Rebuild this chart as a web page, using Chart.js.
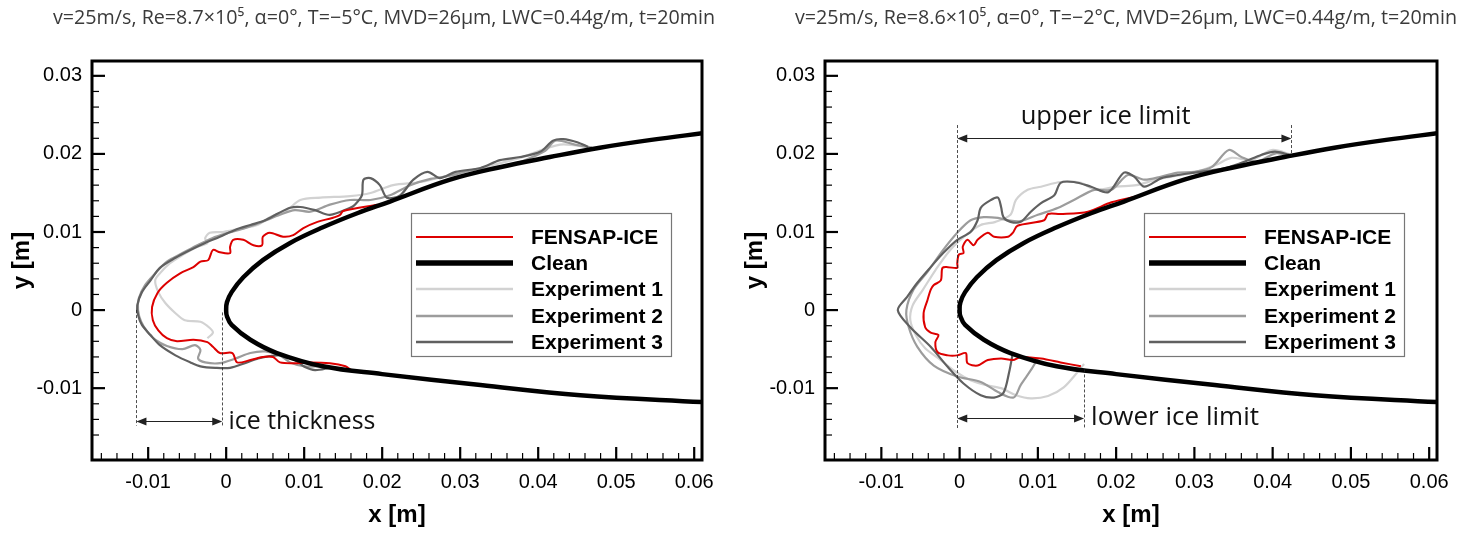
<!DOCTYPE html>
<html>
<head>
<meta charset="utf-8">
<script src="https://cdn.jsdelivr.net/npm/chart.js@4"></script>
<style>
  body { margin: 0; background: #fff; }
  #wrap { position: relative; width: 1466px; height: 533px; }
  canvas { position: absolute; top: 0; }
</style>
</head>
<body>
<div id="wrap">
  <canvas id="chartA" width="733" height="533" style="left:0"></canvas>
  <canvas id="chartB" width="733" height="533" style="left:733px"></canvas>
</div>
<script>
// ---- datos (x, y en metros) ----
const xTicks = [-0.01, 0, 0.01, 0.02, 0.03, 0.04, 0.05, 0.06];
const yTicks = [-0.01, 0, 0.01, 0.02, 0.03];

const titleA = 'v=25m/s, Re=8.7×10⁵, α=0°, T=−5°C, MVD=26μm, LWC=0.44g/m, t=20min';
const titleB = 'v=25m/s, Re=8.6×10⁵, α=0°, T=−2°C, MVD=26μm, LWC=0.44g/m, t=20min';

const legendNames = ['FENSAP-ICE', 'Clean', 'Experiment 1', 'Experiment 2', 'Experiment 3'];

// perfil limpio: extradós desde el borde de fuga hacia el borde de ataque, luego intradós
const cleanUpper = [[0.0615,0.0227],[0.0545,0.0218],[0.0479,0.0208],[0.0415,0.0196],[0.0351,0.0183],
  [0.0287,0.0167],[0.0210,0.0139],[0.0168,0.0124],[0.0124,0.0106],[0.0082,0.0086],[0.0047,0.0064],
  [0.0022,0.0042],[0.0007,0.0023],[0.0001,0.0010],[0,0]];
const cleanLower = [[0.0001,-0.0008],[0.0007,-0.0019],[0.0031,-0.0038],[0.0065,-0.0055],[0.0124,-0.0072],
  [0.0200,-0.0082],[0.0326,-0.0096],[0.0454,-0.0109],[0.0615,-0.0118]];

// panel izquierdo, T=-5°C
const fensapA = [[0.0194,0.0135],[0.0150,0.0127],[0.0146,0.0122],[0.0136,0.0118],[0.0117,0.0113],[0.0099,0.0105],
  [0.0086,0.0096],[0.0073,0.0094],[0.0056,0.0099],[0.0047,0.0094],[0.0046,0.0083],[0.0035,0.0083],[0.0022,0.0090],
  [0.0009,0.0090],[0.0005,0.0081],[0.0005,0.0073],[-0.0008,0.0074],[-0.0017,0.0077],[-0.0023,0.0064],[-0.0033,0.0062],
  [-0.0042,0.0055],[-0.0059,0.0047],[-0.0076,0.0035],[-0.0088,0.0022],[-0.0095,0.0004],[-0.0094,-0.0013],
  [-0.0087,-0.0026],[-0.0076,-0.0036],[-0.0063,-0.0040],[-0.0042,-0.0038],[-0.0024,-0.0041],[-0.0017,-0.0047],
  [-0.0008,-0.0055],[0.0008,-0.0055],[0.0014,-0.0067],[0.0031,-0.0064],[0.0047,-0.0060],[0.0060,-0.0060],
  [0.0069,-0.0067],[0.0091,-0.0068],[0.0108,-0.0067],[0.0133,-0.0068],[0.0153,-0.0072],[0.0160,-0.0077]];
const exp1A = [[0.0467,0.0208],[0.0428,0.0212],[0.0377,0.0195],[0.0326,0.0182],[0.0287,0.0173],[0.0249,0.0164],
  [0.0214,0.0160],[0.0185,0.0150],[0.0159,0.0146],[0.0121,0.0144],[0.0095,0.0141],[0.0078,0.0128],[0.0056,0.0119],
  [0.0040,0.0109],[0.0022,0.0105],[-0.0004,0.0100],[-0.0021,0.0099],[-0.0027,0.0092],[-0.0024,0.0086],
  [-0.0037,0.0081],[-0.0055,0.0071],[-0.0072,0.0060],[-0.0085,0.0047],[-0.0091,0.0038],[-0.0087,0.0023],
  [-0.0078,0.0009],[-0.0065,-0.0004],[-0.0053,-0.0013],[-0.0033,-0.0015],[-0.0021,-0.0023],[-0.0017,-0.0029],
  [-0.0024,-0.0036]];
const exp2A = [[0.0469,0.0208],[0.0447,0.0212],[0.0422,0.0217],[0.0409,0.0204],[0.0383,0.0192],[0.0364,0.0186],
  [0.0338,0.0182],[0.0313,0.0179],[0.0287,0.0172],[0.0262,0.0168],[0.0236,0.0160],[0.0210,0.0147],[0.0185,0.0141],
  [0.0159,0.0141],[0.0133,0.0135],[0.0108,0.0126],[0.0088,0.0128],[0.0069,0.0122],[0.0046,0.0113],[0.0024,0.0105],
  [0.0003,0.0099],[-0.0018,0.0092],[-0.0037,0.0083],[-0.0056,0.0073],[-0.0076,0.0062],[-0.0091,0.0047],
  [-0.0104,0.0032],[-0.0112,0.0015],[-0.0113,0.0000],[-0.0109,-0.0015],[-0.0101,-0.0028],[-0.0091,-0.0038],
  [-0.0076,-0.0046],[-0.0056,-0.0050],[-0.0040,-0.0045],[-0.0033,-0.0051],[-0.0036,-0.0062],[-0.0027,-0.0067],
  [-0.0008,-0.0068],[0.0012,-0.0062],[0.0031,-0.0055],[0.0050,-0.0053],[0.0069,-0.0058],[0.0082,-0.0067],
  [0.0101,-0.0072],[0.0121,-0.0072]];
const exp3A = [[0.0464,0.0209],[0.0450,0.0215],[0.0432,0.0219],[0.0419,0.0217],[0.0403,0.0203],[0.0377,0.0196],
  [0.0351,0.0192],[0.0326,0.0182],[0.0294,0.0177],[0.0274,0.0169],[0.0258,0.0177],[0.0240,0.0167],[0.0223,0.0147],
  [0.0206,0.0144],[0.0197,0.0160],[0.0185,0.0169],[0.0176,0.0167],[0.0174,0.0147],[0.0165,0.0135],[0.0159,0.0131],
  [0.0133,0.0122],[0.0114,0.0128],[0.0095,0.0132],[0.0082,0.0131],[0.0067,0.0124],[0.0050,0.0115],[0.0031,0.0109],
  [0.0012,0.0103],[-0.0008,0.0094],[-0.0027,0.0086],[-0.0046,0.0077],[-0.0065,0.0067],[-0.0085,0.0054],
  [-0.0097,0.0038],[-0.0108,0.0023],[-0.0114,0.0006],[-0.0113,-0.0006],[-0.0108,-0.0019],[-0.0097,-0.0032],
  [-0.0085,-0.0045],[-0.0065,-0.0058],[-0.0046,-0.0067],[-0.0033,-0.0072],[-0.0014,-0.0074],[0.0005,-0.0074],
  [0.0024,-0.0068],[0.0041,-0.0062],[0.0056,-0.0059],[0.0073,-0.0058],[0.0088,-0.0064],[0.0101,-0.0073],
  [0.0114,-0.0077],[0.0133,-0.0074]];

// panel derecho, T=-2°C
const fensapB = [[0.0232,0.0147],[0.0194,0.0138],[0.0164,0.0126],[0.0129,0.0123],[0.0113,0.0123],[0.0108,0.0115],
  [0.0074,0.0108],[0.0068,0.0099],[0.0062,0.0094],[0.0044,0.0094],[0.0036,0.0099],[0.0023,0.0090],[0.0018,0.0083],
  [0.0010,0.0090],[0.0004,0.0081],[0.0005,0.0073],[-0.0001,0.0071],[-0.0003,0.0060],[-0.0003,0.0054],
  [-0.0015,0.0055],[-0.0022,0.0054],[-0.0024,0.0038],[-0.0033,0.0032],[-0.0037,0.0026],[-0.0041,0.0013],
  [-0.0046,-0.0004],[-0.0044,-0.0022],[-0.0037,-0.0029],[-0.0027,-0.0032],[-0.0031,-0.0041],[-0.0028,-0.0054],
  [-0.0015,-0.0058],[-0.0003,-0.0058],[0.0008,-0.0055],[0.0010,-0.0068],[0.0023,-0.0071],[0.0036,-0.0064],
  [0.0053,-0.0062],[0.0068,-0.0064],[0.0078,-0.0060],[0.0104,-0.0062],[0.0129,-0.0067],[0.0155,-0.0072]];
const exp1B = [[0.0424,0.0199],[0.0399,0.0205],[0.0373,0.0192],[0.0347,0.0195],[0.0328,0.0186],[0.0303,0.0177],
  [0.0277,0.0172],[0.0251,0.0167],[0.0226,0.0160],[0.0200,0.0158],[0.0174,0.0154],[0.0155,0.0163],[0.0129,0.0164],
  [0.0104,0.0158],[0.0087,0.0154],[0.0072,0.0141],[0.0065,0.0122],[0.0046,0.0113],[0.0027,0.0109],[0.0008,0.0096],
  [-0.0012,0.0077],[-0.0031,0.0051],[-0.0047,0.0026],[-0.0060,0.0006],[-0.0063,-0.0013],[-0.0056,-0.0032],
  [-0.0044,-0.0049],[-0.0024,-0.0064],[-0.0005,-0.0079],[0.0014,-0.0090],[0.0033,-0.0096],[0.0053,-0.0100],
  [0.0072,-0.0109],[0.0091,-0.0113],[0.0113,-0.0110],[0.0133,-0.0099],[0.0151,-0.0079],[0.0159,-0.0069]];
const exp2B = [[0.0424,0.0196],[0.0405,0.0201],[0.0379,0.0190],[0.0360,0.0196],[0.0344,0.0205],[0.0322,0.0183],
  [0.0300,0.0177],[0.0279,0.0176],[0.0258,0.0171],[0.0236,0.0167],[0.0215,0.0173],[0.0194,0.0154],[0.0172,0.0154],
  [0.0146,0.0141],[0.0126,0.0131],[0.0100,0.0122],[0.0078,0.0114],[0.0062,0.0115],[0.0049,0.0118],[0.0031,0.0119],
  [0.0014,0.0115],[-0.0003,0.0099],[-0.0021,0.0077],[-0.0041,0.0049],[-0.0059,0.0026],[-0.0068,0.0000],
  [-0.0065,-0.0022],[-0.0054,-0.0047],[-0.0033,-0.0071],[-0.0003,-0.0085],[0.0027,-0.0092],[0.0049,-0.0105],
  [0.0069,-0.0112],[0.0078,-0.0096],[0.0091,-0.0077],[0.0100,-0.0062]];
const exp3B = [[0.0421,0.0199],[0.0403,0.0203],[0.0386,0.0199],[0.0364,0.0190],[0.0344,0.0183],[0.0322,0.0179],
  [0.0300,0.0176],[0.0279,0.0173],[0.0258,0.0169],[0.0236,0.0158],[0.0223,0.0171],[0.0210,0.0176],[0.0190,0.0151],
  [0.0168,0.0158],[0.0146,0.0164],[0.0129,0.0163],[0.0121,0.0147],[0.0104,0.0137],[0.0091,0.0126],[0.0078,0.0113],
  [0.0065,0.0113],[0.0056,0.0119],[0.0053,0.0132],[0.0049,0.0144],[0.0040,0.0141],[0.0027,0.0131],[0.0023,0.0115],
  [0.0014,0.0100],[-0.0003,0.0090],[-0.0021,0.0073],[-0.0037,0.0055],[-0.0054,0.0035],[-0.0067,0.0017],
  [-0.0079,0.0000],[-0.0063,-0.0022],[-0.0037,-0.0047],[-0.0015,-0.0073],[0.0005,-0.0094],[0.0027,-0.0109],
  [0.0044,-0.0112],[0.0056,-0.0106],[0.0063,-0.0081],[0.0068,-0.0055]];

// anotaciones: cotas (x, y en metros)
const notesA = {
  dashed: [[-0.0115, 0, -0.0148], [-0.0005, -0.0003, -0.0148]],
  arrows: [[-0.0115, -0.0005, -0.0142]],
  texts: [['ice thickness', 0.0003, -0.01526, 147]]
};
const notesB = {
  dashed: [[-0.0003, 0.0237, -0.0151], [0.0424, 0.0237, 0.0198], [0.0159, -0.0076, -0.0151]],
  arrows: [[-0.0003, 0.0424, 0.0221], [-0.0003, 0.0159, -0.0138]],
  texts: [['upper ice limit', 0.0078, 0.02385, 170], ['lower ice limit', 0.0168, -0.01474, 168]]
};

// ---- dibujo ----
const colores = ['#dd0000', '#000000', '#d2d2d2', '#9c9c9c', '#606060'];
const anchos = [2, 4.5, 2.2, 2.2, 2.2];
const anchosLeyenda = [2, 5.5, 2.5, 2.5, 2.5];
const suavizado = [0.3, 0.4, 0.3, 0.3, 0.3];

function puntos(arr) { return arr.map(p => ({ x: p[0], y: p[1] })); }

function fuenteAjustada(ctx, texto, ancho, peso, familia) {
  ctx.font = `${peso} 40px ${familia}`;
  const w = ctx.measureText(texto).width;
  return `${peso} ${(40 * ancho / w).toFixed(2)}px ${familia}`;
}

function flecha(ctx, x, y, dir) {
  ctx.beginPath();
  ctx.moveTo(x, y);
  ctx.lineTo(x - dir * 10, y - 4);
  ctx.lineTo(x - dir * 10, y + 4);
  ctx.closePath();
  ctx.fill();
}

const marcoPlugin = {
  id: 'marco',
  afterDatasetsDraw(chart, args, opts) {
    const { ctx, chartArea: a, scales: { x, y } } = chart;
    ctx.save();

    // cotas
    ctx.strokeStyle = '#222';
    ctx.fillStyle = '#222';
    ctx.lineWidth = 0.8;
    ctx.setLineDash([3, 2]);
    opts.notes.dashed.forEach(d => {
      const px = Math.round(x.getPixelForValue(d[0])) + 0.5;
      ctx.beginPath();
      ctx.moveTo(px, y.getPixelForValue(d[1]));
      ctx.lineTo(px, y.getPixelForValue(d[2]));
      ctx.stroke();
    });
    ctx.setLineDash([]);
    ctx.lineWidth = 1;
    opts.notes.arrows.forEach(d => {
      const x0 = x.getPixelForValue(d[0]), x1 = x.getPixelForValue(d[1]);
      const py = Math.round(y.getPixelForValue(d[2])) + 0.5;
      ctx.beginPath();
      ctx.moveTo(x0 + 6, py);
      ctx.lineTo(x1 - 6, py);
      ctx.stroke();
      flecha(ctx, x0, py, -1);
      flecha(ctx, x1, py, 1);
    });
    ctx.fillStyle = '#111';
    ctx.textBaseline = 'alphabetic';
    ctx.textAlign = 'left';
    opts.notes.texts.forEach(t => {
      ctx.font = fuenteAjustada(ctx, t[0], t[3], 'normal', '"Open Sans", sans-serif');
      ctx.fillText(t[0], x.getPixelForValue(t[1]), y.getPixelForValue(t[2]));
    });

    // marcas interiores
    ctx.strokeStyle = '#000';
    for (let i = -8; i <= 30; i++) {
      const v = i * 0.002;
      const mayor = i % 5 === 0;
      ctx.lineWidth = mayor ? 2.2 : 1.2;
      const len = mayor ? 13 : 7;
      if (v >= x.min && v <= x.max) {
        const px = x.getPixelForValue(v);
        ctx.beginPath(); ctx.moveTo(px, a.bottom); ctx.lineTo(px, a.bottom - len); ctx.stroke();
      }
      if (v >= y.min && v <= y.max) {
        const py = y.getPixelForValue(v);
        ctx.beginPath(); ctx.moveTo(a.left, py); ctx.lineTo(a.left + len, py); ctx.stroke();
      }
    }
    ctx.lineWidth = 3;
    ctx.strokeRect(a.left, a.top, a.right - a.left, a.bottom - a.top);

    // leyenda
    const bx = a.left + 319, by = a.top + 152;
    ctx.fillStyle = '#fff';
    ctx.fillRect(bx, by, 260, 143);
    ctx.strokeStyle = '#777';
    ctx.lineWidth = 1.2;
    ctx.strokeRect(bx + 0.5, by + 0.5, 260, 143);
    ctx.font = 'bold 21px "Liberation Sans", Arial, sans-serif';
    ctx.textBaseline = 'middle';
    const filas = [24, 50, 76, 103, 129];
    legendNames.forEach((n, i) => {
      const fy = by + filas[i];
      ctx.strokeStyle = colores[i];
      ctx.lineWidth = anchosLeyenda[i];
      ctx.beginPath(); ctx.moveTo(bx + 5, fy); ctx.lineTo(bx + 102, fy); ctx.stroke();
      ctx.fillStyle = '#000';
      ctx.fillText(n, bx + 120, fy + 1);
    });
    ctx.restore();
  },
  afterDraw(chart, args, opts) {
    const ctx = chart.ctx;
    ctx.save();
    ctx.fillStyle = '#3a3a3a';
    ctx.textAlign = 'center';
    ctx.textBaseline = 'middle';
    ctx.font = fuenteAjustada(ctx, opts.title, 662, 'normal', '"Open Sans", sans-serif');
    ctx.fillText(opts.title, opts.titleX, 18);
    ctx.restore();
  }
};

function crearPanel(id, series, title, notes, padRight, titleX) {
  const datasets = series.map((s, i) => ({
    label: legendNames[i],
    data: puntos(s),
    showLine: true,
    borderColor: colores[i],
    borderWidth: anchos[i],
    pointRadius: 0,
    tension: suavizado[i],
    borderJoinStyle: 'round',
    order: [1, 0, 4, 3, 2][i]
  }));
  const fuenteEje = { family: '"Liberation Sans", Arial, sans-serif', size: 20 };
  const tituloEje = { family: '"Liberation Sans", Arial, sans-serif', size: 24, weight: 'bold' };
  const fmt = v => String(Number(v.toFixed(3)));
  return new Chart(document.getElementById(id), {
    type: 'scatter',
    data: { datasets },
    plugins: [marcoPlugin],
    options: {
      responsive: false,
      animation: false,
      devicePixelRatio: 1,
      layout: { padding: { top: 61, right: padRight, left: 0, bottom: 0 } },
      plugins: {
        legend: { display: false },
        tooltip: { enabled: false },
        marco: { notes, title, titleX }
      },
      scales: {
        x: {
          type: 'linear', min: -0.0172, max: 0.061,
          afterBuildTicks: s => { s.ticks = xTicks.map(v => ({ value: v })); },
          afterFit: s => { s.height = 73; },
          ticks: { font: fuenteEje, color: '#000', padding: 10, callback: fmt, maxRotation: 0, autoSkip: false },
          grid: { display: false, drawTicks: false },
          border: { display: false },
          title: { display: true, text: 'x [m]', font: tituloEje, color: '#000', padding: { top: 0, bottom: 3 } }
        },
        y: {
          type: 'linear', min: -0.0192, max: 0.0319,
          afterBuildTicks: s => { s.ticks = yTicks.map(v => ({ value: v })); },
          afterFit: s => { s.width = 92; },
          ticks: { font: fuenteEje, color: '#000', padding: 10, callback: fmt, autoSkip: false },
          grid: { display: false, drawTicks: false },
          border: { display: false },
          title: { display: true, text: 'y [m]', font: tituloEje, color: '#000', padding: { top: 8, bottom: 0 } }
        }
      }
    }
  });
}

const clean = cleanUpper.concat(cleanLower);
crearPanel('chartA', [fensapA, clean, exp1A, exp2A, exp3A], titleA, notesA, 31, 384);
crearPanel('chartB', [fensapB, clean, exp1B, exp2B, exp3B], titleB, notesB, 29, 393);
</script>
</body>
</html>
